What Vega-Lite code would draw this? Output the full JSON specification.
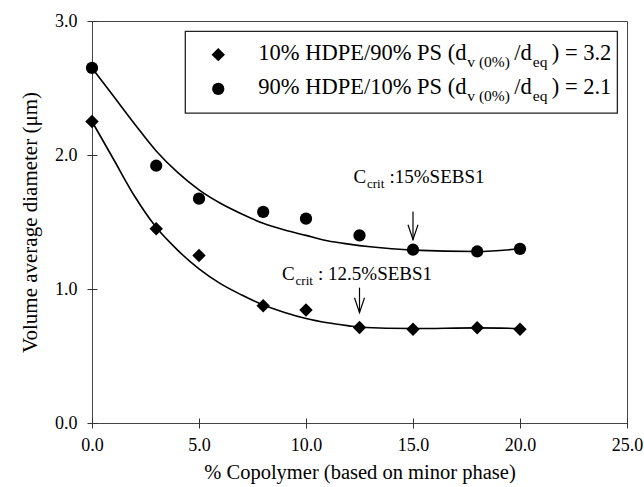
{
  "$schema": "https://vega.github.io/schema/vega-lite/v6.json",
  "width": 535,
  "height": 402,
  "autosize": {"type": "none"},
  "padding": {"left": 92, "top": 21, "right": 17, "bottom": 64},
  "background": "white",
  "config": {
    "view": {"stroke": "#444", "strokeWidth": 1},
    "font": "Liberation Serif",
    "axis": {"grid": false}
  },
  "datasets": {
    "curves": [
      {"series": "A", "x": 0, "y": 2.25}, {"series": "A", "x": 1, "y": 1.97}, {"series": "A", "x": 2, "y": 1.69},
      {"series": "A", "x": 3, "y": 1.46}, {"series": "A", "x": 4, "y": 1.29}, {"series": "A", "x": 5, "y": 1.15},
      {"series": "A", "x": 6, "y": 1.04}, {"series": "A", "x": 7, "y": 0.955}, {"series": "A", "x": 8, "y": 0.88},
      {"series": "A", "x": 9, "y": 0.825}, {"series": "A", "x": 10, "y": 0.78}, {"series": "A", "x": 11, "y": 0.748},
      {"series": "A", "x": 12, "y": 0.725}, {"series": "A", "x": 12.5, "y": 0.715}, {"series": "A", "x": 15, "y": 0.705},
      {"series": "A", "x": 18, "y": 0.71}, {"series": "A", "x": 20, "y": 0.705},
      {"series": "B", "x": 0, "y": 2.65}, {"series": "B", "x": 1, "y": 2.44}, {"series": "B", "x": 2, "y": 2.23},
      {"series": "B", "x": 3, "y": 2.03}, {"series": "B", "x": 4, "y": 1.87}, {"series": "B", "x": 5, "y": 1.74},
      {"series": "B", "x": 6, "y": 1.64}, {"series": "B", "x": 7, "y": 1.56}, {"series": "B", "x": 8, "y": 1.49},
      {"series": "B", "x": 9, "y": 1.44}, {"series": "B", "x": 10, "y": 1.40}, {"series": "B", "x": 11, "y": 1.36},
      {"series": "B", "x": 12, "y": 1.335}, {"series": "B", "x": 13, "y": 1.315}, {"series": "B", "x": 14, "y": 1.30},
      {"series": "B", "x": 15, "y": 1.29}, {"series": "B", "x": 18, "y": 1.28}, {"series": "B", "x": 20, "y": 1.30}
    ],
    "points": [
      {"series": "A", "x": 0, "y": 2.25}, {"series": "A", "x": 3, "y": 1.45}, {"series": "A", "x": 5, "y": 1.25},
      {"series": "A", "x": 8, "y": 0.875}, {"series": "A", "x": 10, "y": 0.843}, {"series": "A", "x": 12.5, "y": 0.713},
      {"series": "A", "x": 15, "y": 0.70}, {"series": "A", "x": 18, "y": 0.711}, {"series": "A", "x": 20, "y": 0.70},
      {"series": "B", "x": 0, "y": 2.65}, {"series": "B", "x": 3, "y": 1.92}, {"series": "B", "x": 5, "y": 1.674},
      {"series": "B", "x": 8, "y": 1.575}, {"series": "B", "x": 10, "y": 1.525}, {"series": "B", "x": 12.5, "y": 1.40},
      {"series": "B", "x": 15, "y": 1.293}, {"series": "B", "x": 18, "y": 1.28}, {"series": "B", "x": 20, "y": 1.30}
    ],
    "legendbox": [{"x": 4.36, "x2": 24.55, "y": 2.313, "y2": 2.922}],
    "legendsym": [{"series": "A", "x": 5.9, "y": 2.749}, {"series": "B", "x": 5.9, "y": 2.493}],
    "legendtext": [
      {"x": 7.77, "y": 2.711, "main": "10% HDPE/90% PS (d", "sub1": "v (0%)", "mid": "/d", "sub2": "eq", "end": ") = 3.2"},
      {"x": 7.77, "y": 2.457, "main": "90% HDPE/10% PS (d", "sub1": "v (0%)", "mid": "/d", "sub2": "eq", "end": ") = 2.1"}
    ],
    "notes": [
      {"x": 12.22, "y": 1.794, "c": "C", "sub": "crit", "rest": ":15%SEBS1"},
      {"x": 8.88, "y": 1.069, "c": "C", "sub": "crit", "rest": ": 12.5%SEBS1"}
    ],
    "arrows": [
      {"x": 15, "ytop": 1.579, "y": 1.368},
      {"x": 12.5, "ytop": 1.01, "y": 0.823}
    ]
  },
  "encoding": {
    "x": {
      "field": "x", "type": "quantitative",
      "scale": {"domain": [0, 25], "nice": false, "zero": false},
      "axis": {
        "values": [0, 5, 10, 15, 20, 25], "format": ".1f",
        "title": "% Copolymer (based on minor phase)",
        "domain": false, "offset": -5, "tickSize": 10, "tickColor": "#333", "tickWidth": 1,
        "labelFont": "Liberation Serif", "labelFontSize": 18, "labelColor": "black", "labelPadding": 8,
        "labelFlush": false, "labelOverlap": false,
        "titleFont": "Liberation Serif", "titleFontSize": 20.5, "titleFontWeight": "normal", "titleColor": "black", "titlePadding": 8
      }
    },
    "y": {
      "field": "y", "type": "quantitative",
      "scale": {"domain": [0, 3], "nice": false, "zero": false},
      "axis": {
        "values": [0, 1, 2, 3], "format": ".1f",
        "title": "Volume average diameter (μm)",
        "domain": false, "offset": -5, "tickSize": 10, "tickColor": "#333", "tickWidth": 1,
        "labelFont": "Liberation Serif", "labelFontSize": 18, "labelColor": "black", "labelPadding": 10,
        "labelFlush": false, "labelOverlap": false,
        "titleFont": "Liberation Serif", "titleFontSize": 21, "titleFontWeight": "normal", "titleColor": "black", "titlePadding": 14
      }
    }
  },
  "layer": [
    {
      "data": {"name": "legendbox"},
      "mark": {"type": "rect", "fill": "white", "stroke": "#222", "strokeWidth": 1.3},
      "encoding": {"x2": {"field": "x2"}, "y2": {"field": "y2"}}
    },
    {
      "data": {"name": "curves"},
      "mark": {"type": "line", "color": "black", "strokeWidth": 1.6, "interpolate": "monotone"},
      "encoding": {"detail": {"field": "series"}}
    },
    {
      "data": {"name": "points"},
      "mark": {"type": "point", "filled": true, "color": "black", "opacity": 1},
      "encoding": {
        "shape": {"field": "series", "type": "nominal", "scale": {"domain": ["A", "B"], "range": ["diamond", "circle"]}, "legend": null},
        "size": {"field": "series", "type": "nominal", "scale": {"domain": ["A", "B"], "range": [180, 150]}, "legend": null}
      }
    },
    {
      "data": {"name": "legendsym"},
      "mark": {"type": "point", "filled": true, "color": "black", "opacity": 1},
      "encoding": {
        "shape": {"field": "series", "type": "nominal", "legend": null},
        "size": {"field": "series", "type": "nominal", "legend": null}
      }
    },
    {
      "data": {"name": "legendtext"},
      "layer": [
        {"mark": {"type": "text", "align": "left", "baseline": "alphabetic", "font": "Liberation Serif", "fontSize": 22.5, "color": "black"},
         "encoding": {"text": {"field": "main"}}},
        {"mark": {"type": "text", "align": "left", "baseline": "alphabetic", "font": "Liberation Serif", "fontSize": 15.5, "color": "black", "dx": 209, "dy": 7},
         "encoding": {"text": {"field": "sub1"}}},
        {"mark": {"type": "text", "align": "left", "baseline": "alphabetic", "font": "Liberation Serif", "fontSize": 22.5, "color": "black", "dx": 256},
         "encoding": {"text": {"field": "mid"}}},
        {"mark": {"type": "text", "align": "left", "baseline": "alphabetic", "font": "Liberation Serif", "fontSize": 15.5, "color": "black", "dx": 274.5, "dy": 7},
         "encoding": {"text": {"field": "sub2"}}},
        {"mark": {"type": "text", "align": "left", "baseline": "alphabetic", "font": "Liberation Serif", "fontSize": 22.5, "color": "black", "dx": 293.5},
         "encoding": {"text": {"field": "end"}}}
      ]
    },
    {
      "data": {"name": "notes"},
      "layer": [
        {"mark": {"type": "text", "align": "left", "baseline": "alphabetic", "font": "Liberation Serif", "fontSize": 19, "color": "black"},
         "encoding": {"text": {"field": "c"}}},
        {"mark": {"type": "text", "align": "left", "baseline": "alphabetic", "font": "Liberation Serif", "fontSize": 13, "color": "black", "dx": 13.5, "dy": 5},
         "encoding": {"text": {"field": "sub"}}},
        {"mark": {"type": "text", "align": "left", "baseline": "alphabetic", "font": "Liberation Serif", "fontSize": 19, "color": "black", "dx": 36},
         "encoding": {"text": {"field": "rest"}}}
      ]
    },
    {
      "data": {"name": "arrows"},
      "layer": [
        {"mark": {"type": "rule", "color": "black", "strokeWidth": 1.2},
         "encoding": {"y2": {"field": "ytop"}}},
        {"mark": {"type": "point", "shape": "M-1,-3L0,0L1,-3", "size": 100, "filled": false, "color": "black", "strokeWidth": 1.2, "opacity": 1}}
      ]
    }
  ]
}
